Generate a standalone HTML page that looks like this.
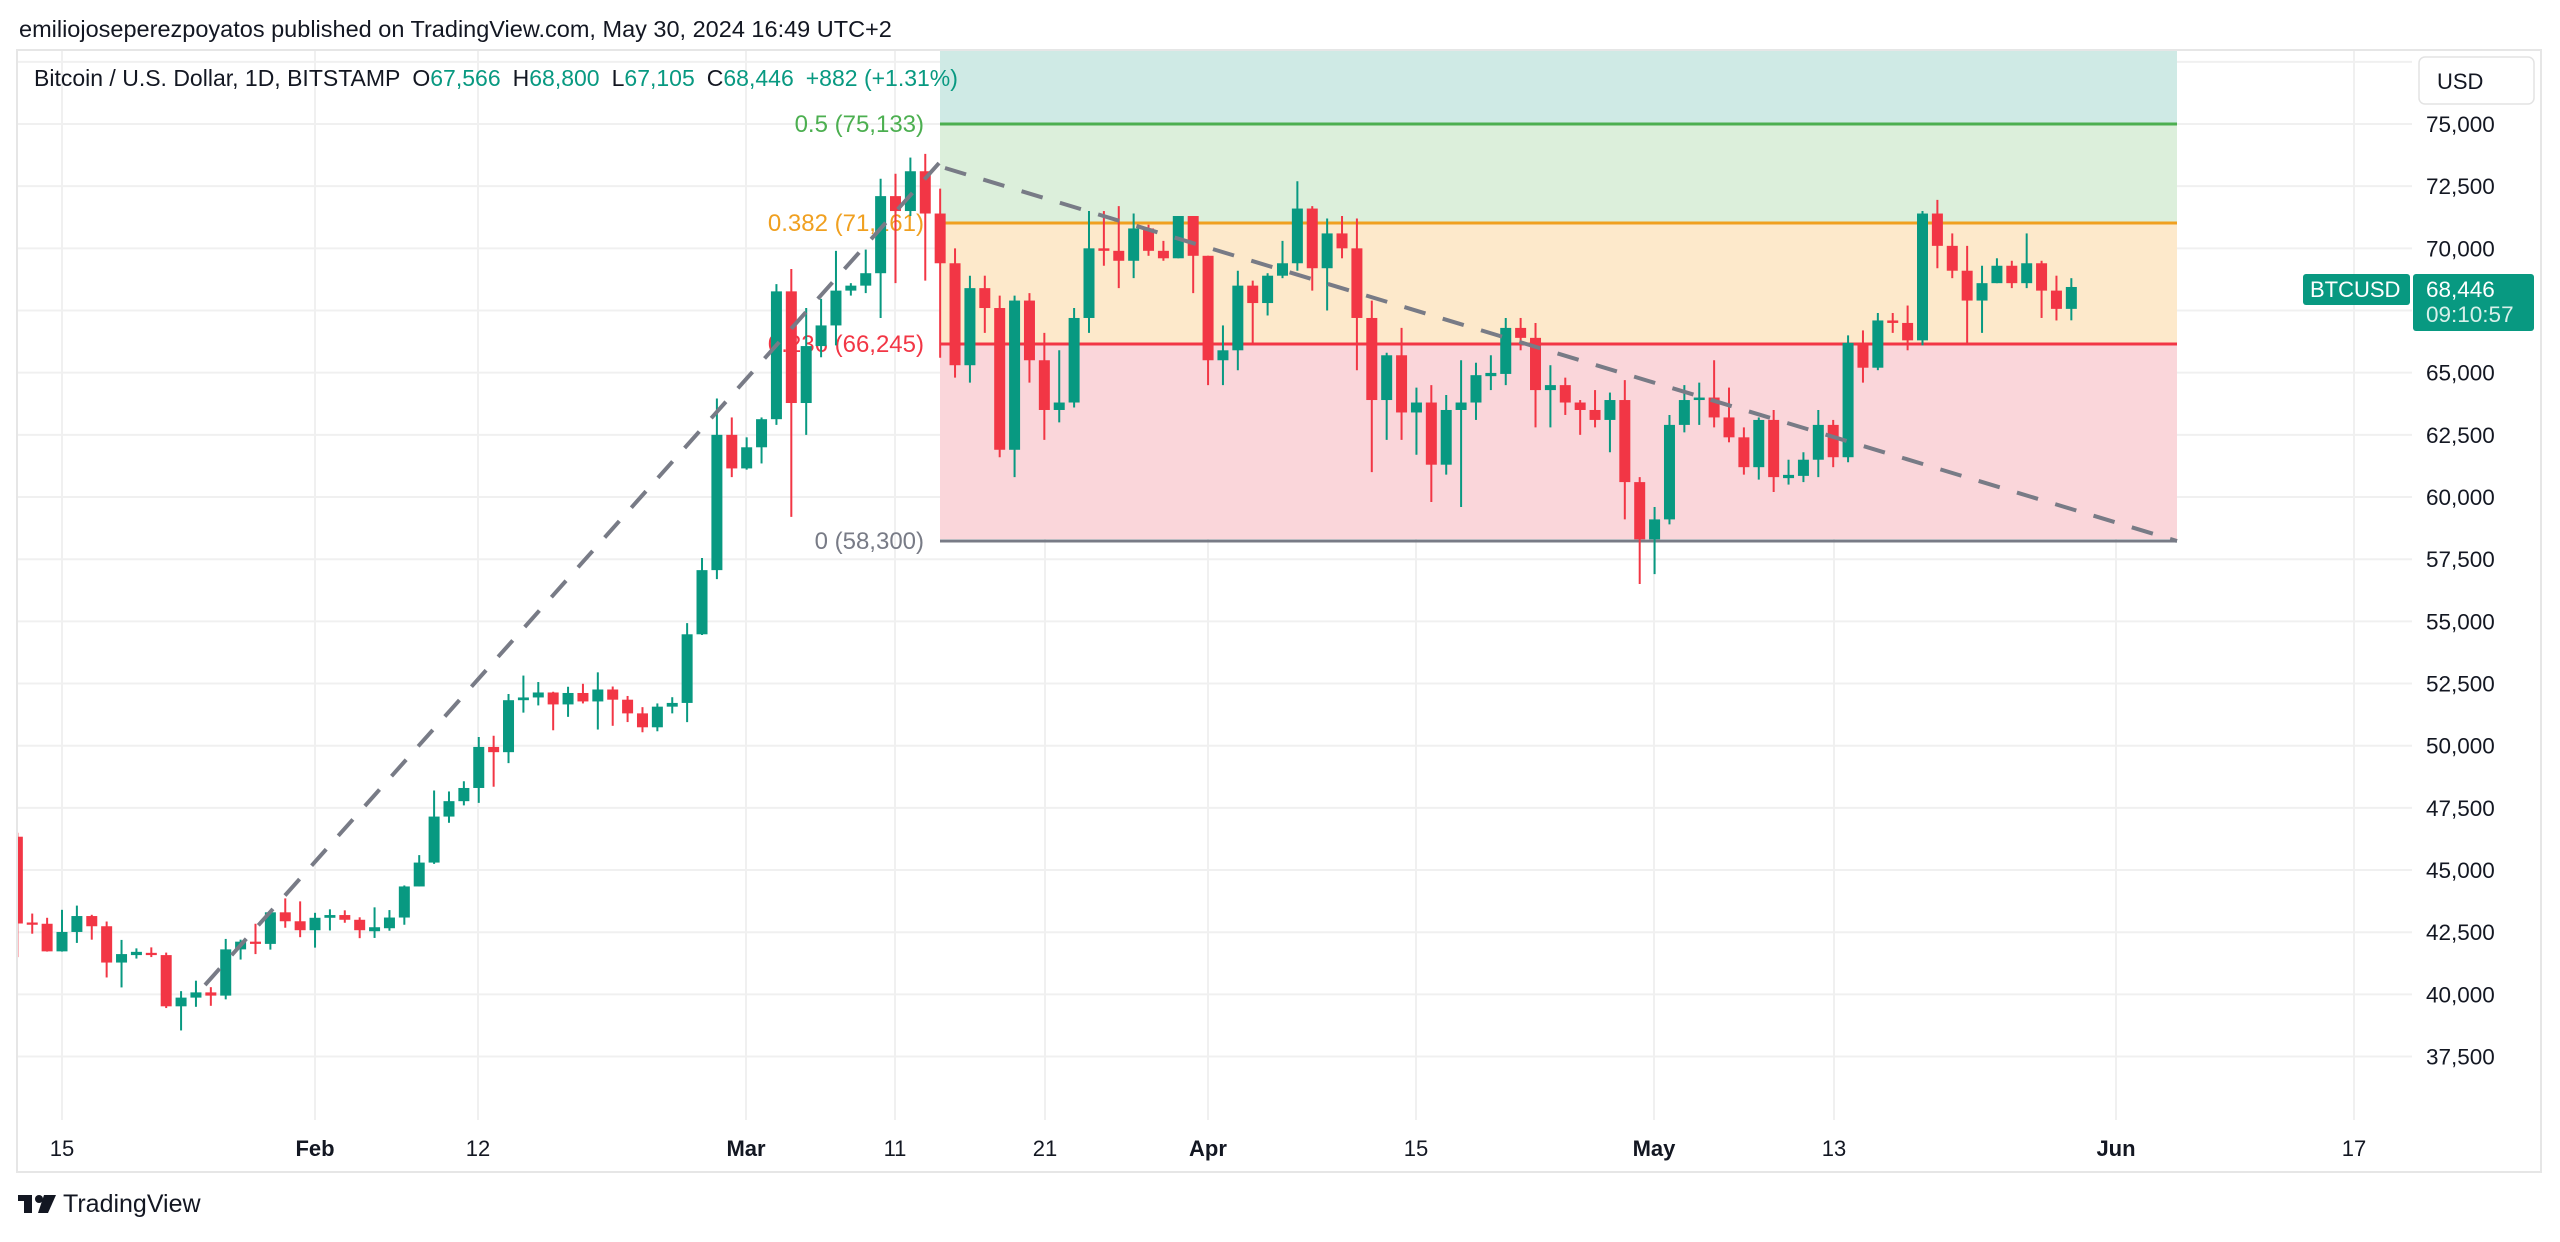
<!DOCTYPE html>
<html><head><meta charset="utf-8">
<style>
html,body{margin:0;padding:0;background:#fff;}
body{width:2560px;height:1237px;overflow:hidden;font-family:"Liberation Sans",sans-serif;}
svg text{font-family:"Liberation Sans",sans-serif;}
</style></head><body>
<svg id="c" width="2560" height="1237" viewBox="0 0 2560 1237" xmlns="http://www.w3.org/2000/svg">
<rect width="2560" height="1237" fill="#fff"/>
<g id="grid"></g>
<g id="fib">
<rect x="940" y="50" width="1237" height="74" fill="#cfeae5"/>
<rect x="940" y="124" width="1237" height="99" fill="#dcefdb"/>
<rect x="940" y="223" width="1237" height="121" fill="#fde9cb"/>
<rect x="940" y="344" width="1237" height="195" fill="#fad6da"/>
<line x1="940" y1="124" x2="2177" y2="124" stroke="#4caf50" stroke-width="3"/>
<line x1="940" y1="223" x2="2177" y2="223" stroke="#f0a020" stroke-width="3"/>
<line x1="940" y1="344" x2="2177" y2="344" stroke="#f23645" stroke-width="3"/>
<line x1="940" y1="541" x2="2177" y2="541" stroke="#787b86" stroke-width="3"/>
<g font-size="24" text-anchor="end">
<text x="924" y="132" fill="#4caf50">0.5 (75,133)</text>
<text x="924" y="231" fill="#f0a020">0.382 (71,161)</text>
<text x="924" y="352" fill="#f23645">0.236 (66,245)</text>
<text x="924" y="549" fill="#787b86">0 (58,300)</text>
</g>
</g>
<g id="candles"></g>
<g stroke="#787b86" stroke-width="4" stroke-dasharray="22,18" fill="none">
<line x1="205" y1="985" x2="940" y2="162"/>
<line x1="945" y1="168" x2="2177" y2="541"/>
</g>
<rect x="0" y="0" width="17" height="1237" fill="#fff"/>
<rect x="17" y="50" width="2524" height="1122" fill="none" stroke="#e6e6e6" stroke-width="2"/>
<text x="19" y="37" font-size="23.5" fill="#131722">emiliojoseperezpoyatos published on TradingView.com, May 30, 2024 16:49 UTC+2</text>
<g font-size="23">
<text x="34" y="86" fill="#131722">Bitcoin / U.S. Dollar, 1D, BITSTAMP <tspan dx="6">O</tspan><tspan fill="#089981">67,566</tspan><tspan dx="12">H</tspan><tspan fill="#089981">68,800</tspan><tspan dx="12">L</tspan><tspan fill="#089981">67,105</tspan><tspan dx="12">C</tspan><tspan fill="#089981">68,446</tspan><tspan dx="12" fill="#089981">+882 (+1.31%)</tspan></text>
</g>
<rect x="2419" y="57" width="115" height="47" rx="6" fill="#fff" stroke="#e3e3e3" stroke-width="1.5"/>
<text x="2437" y="89" font-size="22" fill="#131722">USD</text>
<g id="yl" font-size="22.5" fill="#131722"></g>
<rect x="2303" y="274" width="107" height="31" rx="3" fill="#089981"/>
<text x="2310" y="297" font-size="22" fill="#fff">BTCUSD</text>
<rect x="2413" y="274" width="121" height="57" rx="3" fill="#089981"/>
<text x="2426" y="297" font-size="22.5" fill="#fff">68,446</text>
<text x="2426" y="322" font-size="22.5" fill="#d8f0ea">09:10:57</text>
<g id="xl" font-size="22" fill="#131722" text-anchor="middle">
<text x="62" y="1156">15</text>
<text x="315" y="1156" font-weight="bold">Feb</text>
<text x="478" y="1156">12</text>
<text x="746" y="1156" font-weight="bold">Mar</text>
<text x="895" y="1156">11</text>
<text x="1045" y="1156">21</text>
<text x="1208" y="1156" font-weight="bold">Apr</text>
<text x="1416" y="1156">15</text>
<text x="1654" y="1156" font-weight="bold">May</text>
<text x="1834" y="1156">13</text>
<text x="2116" y="1156" font-weight="bold">Jun</text>
<text x="2354" y="1156">17</text>
</g>
<g fill="#131722">
<rect x="18" y="1195" width="14" height="6"/>
<rect x="24" y="1195" width="8" height="18"/>
<circle cx="39" cy="1199" r="4"/>
<polygon points="44,1195 56,1195 48,1213 38,1213"/>
</g>
<text x="63" y="1212" font-size="25" fill="#131722">TradingView</text>
</svg>
<script>
var NS="http://www.w3.org/2000/svg";
function Y(p){return 124+(75000-p)/2500*62.17;}
function X(d){return 62+d*14.884;}
function el(par,tag,at){var e=document.createElementNS(NS,tag);for(var k in at)e.setAttribute(k,at[k]);document.getElementById(par).appendChild(e);return e;}
for(var p=37500;p<=77500;p+=2500){el("grid","line",{x1:17,x2:2412,y1:Y(p),y2:Y(p),stroke:"#f0f0f0","stroke-width":2});}
[62,315,478,746,895,1045,1208,1416,1654,1834,2116,2354].forEach(function(x){el("grid","line",{x1:x,x2:x,y1:50,y2:1120,stroke:"#f0f0f0","stroke-width":2});});
for(var p=37500;p<=75000;p+=2500){var t=el("yl","text",{x:2426,y:Y(p)+8});t.textContent=(p/1000).toFixed(3).replace(".",",");}
var D=[
[46340,46500,41500,42850],[42850,43250,42440,42840],[42840,43080,41720,41730],[41730,43400,41720,42510],[42510,43570,42070,43150],[43150,43200,42200,42740],[42740,42930,40680,41280],[41280,42190,40280,41620],[41620,41850,41440,41670],[41670,41890,41500,41580],[41580,41680,39450,39520],[39520,40130,38550,39870],[39870,40550,39500,40080],[40080,40290,39540,39950],[39950,42230,39800,41810],[41810,42200,41400,42120],[42120,42840,41620,42030],[42030,43310,41800,43300],[43300,43860,42680,42940],[42940,43740,42300,42580],
[42580,43280,41880,43080],[43080,43420,42570,43190],[43190,43380,42880,43000],[43000,43100,42260,42580],[42580,43500,42270,42660],[42660,43390,42560,43090],[43090,44380,42800,44340],[44340,45600,44340,45300],[45300,48200,45250,47150],[47150,48160,46900,47770],[47770,48570,47600,48300],[48300,50350,47700,49950],[49950,50400,48350,49740],[49740,52080,49300,51830],[51830,52820,51330,51940],[51940,52560,51620,52140],[52140,52170,50620,51660],[51660,52370,51160,52120],[52120,52490,51700,51780],[51780,52950,50650,52260],[52260,52380,50800,51850],[51850,52000,50950,51300],[51300,51550,50540,50740],[50740,51700,50580,51570],[51570,51950,51300,51720],[51720,54930,50950,54480],[54480,57550,54450,57060],[57060,63960,56700,62500],
[62500,63200,60800,61150],[61150,62400,61100,62000],[62000,63200,61350,63130],[63130,68560,62900,68270],[68270,69170,59200,63780],[63780,67600,62500,66070],[66070,67970,65620,66900],[66900,69900,66100,68300],[68300,68600,68100,68500],[68500,69950,68200,69000],[69000,72800,67200,72100],[72100,73000,68600,71500],[71500,73650,71300,73100],[73100,73800,68700,71400],[71400,72400,65600,69400],[69400,70000,64800,65300],[65300,68900,64600,68400],[68400,68900,66600,67600],[67600,68100,61600,61900],[61900,68100,60800,67900],[67900,68200,64600,65500],[65500,66600,62300,63500],[63500,65900,63000,63800],[63800,67600,63600,67200],[67200,71500,66600,70000],[70000,71500,69300,69900],[69900,71700,68400,69500],[69500,71400,68800,70800],[70800,70950,69700,69900],[69900,70300,69500,69600],[69600,71300,69600,71300],
[71300,71300,68200,69700],[69700,69700,64500,65500],[65500,66900,64500,65900],[65900,69100,65100,68500],[68500,68700,66100,67800],[67800,69000,67300,68900],[68900,70300,68800,69400],[69400,72700,69100,71600],[71600,71700,68300,69200],[69200,71200,67500,70600],[70600,71300,69600,70000],[70000,71200,65100,67200],[67200,67900,61000,63900],[63900,65800,62300,65700],[65700,66800,62300,63400],[63400,64400,61700,63800],[63800,64500,59800,61300],[61300,64100,60900,63500],[63500,65500,59600,63800],[63800,65400,63100,64900],[64900,65700,64300,64950],[64950,67200,64500,66800],[66800,67200,65900,66400],[66400,67000,62800,64300],[64300,65300,62800,64500],[64500,64800,63300,63800],[63800,63900,62500,63500],[63500,64300,62800,63100],[63100,64200,61800,63900],[63900,64700,59100,60600],
[60600,60800,56500,58300],[58300,59600,56900,59100],[59100,63300,58900,62900],[62900,64500,62600,63900],[63900,64600,62900,64000],[64000,65500,62800,63200],[63200,64400,62200,62400],[62400,62800,60900,61200],[61200,63200,60700,63100],[63100,63500,60200,60800],[60800,61500,60500,60850],[60850,61800,60600,61500],[61500,63500,60800,62900],[62900,63100,61200,61600],[61600,66500,61400,66200],[66200,66700,64600,65200],[65200,67400,65100,67100],[67100,67400,66600,67000],[67000,67700,65900,66300],[66300,71500,66100,71400],[71400,71950,69200,70100],[70100,70600,68800,69100],[69100,70100,66200,67900],[67900,69300,66600,68600],[68600,69600,68600,69300],[69300,69500,68400,68600],[68600,70600,68400,69400],[69400,69500,67200,68300],[68300,68900,67100,67566],[67566,68800,67105,68446]];
D.forEach(function(c,i){var d=i-3,x=X(d),o=c[0],h=c[1],l=c[2],cl=c[3];var col=cl>=o?"#089981":"#f23645";
el("candles","line",{x1:x,x2:x,y1:Y(h),y2:Y(l),stroke:col,"stroke-width":2});
var t=Y(Math.max(o,cl)),b=Y(Math.min(o,cl));if(b-t<2){t-=1;b+=1;}
el("candles","rect",{x:x-5.5,y:t,width:11,height:b-t,fill:col});});
</script>
</body></html>
